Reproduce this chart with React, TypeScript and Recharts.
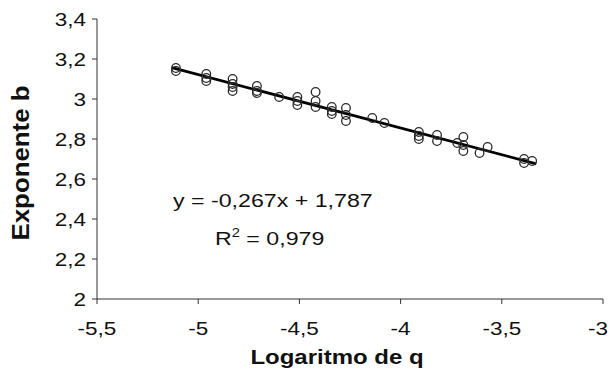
import {
  ScatterChart,
  Scatter,
  XAxis,
  YAxis,
  ReferenceLine,
  Label,
} from 'recharts';

// log q values and their measured exponent b, one row per sample
const logQ = [
  -5.11, -5.11,
  -4.96, -4.96, -4.96,
  -4.83, -4.83, -4.83, -4.83,
  -4.71, -4.71, -4.71,
  -4.6,
  -4.51, -4.51, -4.51,
  -4.42, -4.42, -4.42,
  -4.34, -4.34, -4.34,
  -4.27, -4.27, -4.27,
  -4.14,
  -4.08,
  -3.91, -3.91, -3.91,
  -3.82, -3.82,
  -3.72,
  -3.69, -3.69, -3.69,
  -3.61,
  -3.57,
  -3.39, -3.39,
  -3.35,
];
const exponentB = [
  3.155, 3.14,
  3.125, 3.105, 3.09,
  3.1, 3.075, 3.06, 3.04,
  3.065, 3.04, 3.03,
  3.01,
  3.01, 2.99, 2.97,
  3.035, 2.99, 2.96,
  2.96, 2.94, 2.925,
  2.955, 2.92, 2.89,
  2.905,
  2.88,
  2.835, 2.815, 2.8,
  2.82, 2.79,
  2.78,
  2.81, 2.77, 2.74,
  2.73,
  2.76,
  2.7, 2.68,
  2.69,
];

const xTicks = [-5.5, -5, -4.5, -4, -3.5, -3];
const yTicks = [2, 2.2, 2.4, 2.6, 2.8, 3, 3.2, 3.4];

// fitted trend: y = slope * x + intercept
const slope = -0.267;
const intercept = 1.787;
const r2 = 0.979;
const trendFrom = -5.13;
const trendTo = -3.33;

const points = logQ.map((x, i) => ({ x, y: exponentB[i] }));
const fit = (x: number) => slope * x + intercept;

const FONT = '"Liberation Sans", Arial, sans-serif';
const INK = '#111';

const comma = (v: number) => String(v).replace('.', ',');
const fmt3 = (v: number) => v.toFixed(3).replace('.', ',');

// text in the picture is a little stretched sideways
function SText({ x, y, sx = 1.22, sy = 1, rotate = 0, anchor = 'middle', size = 18, bold = false, children }: any) {
  return (
    <text
      transform={`translate(${x} ${y}) rotate(${rotate}) scale(${sx} ${sy})`}
      textAnchor={anchor}
      fontFamily={FONT}
      fontSize={size}
      fontWeight={bold ? 'bold' : 'normal'}
      fill={INK}
    >
      {children}
    </text>
  );
}

const XTick = ({ x, y, payload }: any) => {
  // the last label is pushed in so it stays on the page
  const last = payload.value === xTicks[xTicks.length - 1];
  return (
    <SText x={last ? x + 5 : x} y={y + 31} sx={1.25} anchor={last ? 'end' : 'middle'}>
      {comma(payload.value)}
    </SText>
  );
};

const YTick = ({ x, y, payload }: any) => (
  <SText x={x} y={y + 6.5} sx={1.25} anchor="end">{comma(payload.value)}</SText>
);

const Ring = ({ cx, cy }: any) => (
  <circle cx={cx} cy={cy} r={4.3} fill="none" stroke="#2a2a2a" strokeWidth={1.3} />
);

export default function App() {
  return (
    <div style={{ position: 'absolute', left: 0, top: 0, width: 610, height: 373, background: '#fff' }}>
      <ScatterChart width={610} height={373} margin={{ top: 19, right: 7, bottom: 0, left: 0 }}>
        <XAxis
          type="number"
          dataKey="x"
          domain={[-5.5, -3]}
          ticks={xTicks}
          interval={0}
          height={74}
          tickSize={5}
          tickMargin={0}
          stroke="#333"
          tick={<XTick />}
        >
          <Label
            content={({ viewBox }: any) => (
              <SText x={viewBox.x + 240} y={viewBox.y + 65} size={20} bold sx={1.2}>
                Logaritmo de q
              </SText>
            )}
          />
        </XAxis>
        <YAxis
          type="number"
          dataKey="y"
          domain={[2, 3.4]}
          ticks={yTicks}
          interval={0}
          width={97}
          tickSize={5}
          tickMargin={6}
          stroke="#333"
          tick={<YTick />}
        >
          <Label
            content={({ viewBox }: any) => (
              <SText x={21} y={viewBox.y + 144} rotate={-90} sx={1.23} sy={1.1} size={21} bold>
                <tspan dy="0.35em">Exponente b</tspan>
              </SText>
            )}
          />
        </YAxis>
        <Scatter data={points} shape={<Ring />} isAnimationActive={false} />
        <ReferenceLine
          segment={[
            { x: trendFrom, y: fit(trendFrom) },
            { x: trendTo, y: fit(trendTo) },
          ]}
          stroke="#000"
          strokeWidth={2.8}
        />
      </ScatterChart>
      <svg width={610} height={373} style={{ position: 'absolute', left: 0, top: 0, pointerEvents: 'none' }}>
        <SText x={173} y={207} size={19} anchor="start">
          {`y = ${fmt3(slope)}x + ${fmt3(intercept)}`}
        </SText>
        <SText x={215} y={245} size={19} anchor="start">
          R<tspan fontSize={12} dy={-8}>2</tspan>
          <tspan dy={8}>{` = ${fmt3(r2)}`}</tspan>
        </SText>
      </svg>
    </div>
  );
}
